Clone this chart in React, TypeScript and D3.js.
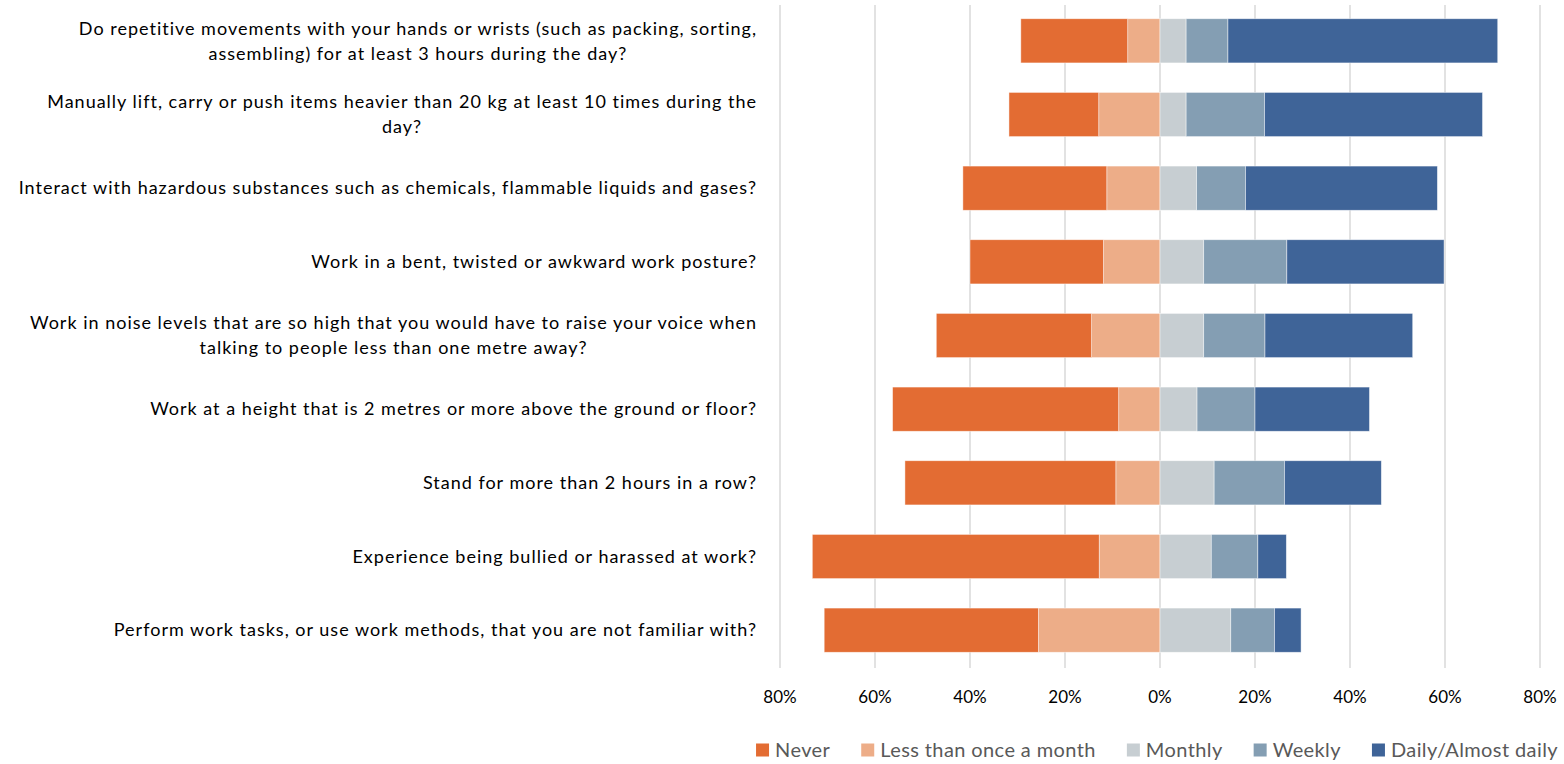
import React, { useEffect, useRef } from "react";
import * as d3 from "d3";

const questions: string[][] = [
  ["Do repetitive movements with your hands or wrists (such as packing, sorting,", "assembling) for at least 3 hours during the day?"],
  ["Manually lift, carry or push items heavier than 20 kg at least 10 times during the", "day?"],
  ["Interact with hazardous substances such as chemicals, flammable liquids and gases?"],
  ["Work in a bent, twisted or awkward work posture?"],
  ["Work in noise levels that are so high that you would have to raise your voice when", "talking to people less than one metre away?"],
  ["Work at a height that is 2 metres or more above the ground or floor?"],
  ["Stand for more than 2 hours in a row?"],
  ["Experience being bullied or harassed at work?"],
  ["Perform work tasks, or use work methods, that you are not familiar with?"],
];

const never = [22.5, 18.9, 30.3, 28.1, 32.7, 47.6, 44.4, 60.4, 45.1];
const lessThanMonthly = [6.8, 12.9, 11.2, 11.9, 14.4, 8.7, 9.3, 12.8, 25.6];
const monthly = [5.5, 5.5, 7.7, 9.2, 9.2, 7.8, 11.4, 10.8, 14.9];
const weekly = [8.8, 16.5, 10.3, 17.5, 12.9, 12.2, 14.8, 9.8, 9.2];
const daily = [56.8, 45.9, 40.4, 33.1, 31.1, 24.1, 20.4, 6.0, 5.6];

const seriesNames = ["Never", "Less than once a month", "Monthly", "Weekly", "Daily/Almost daily"];
const colors = ["#E36C33", "#EDAD88", "#C7CED2", "#849EB3", "#3F6498"];
const tickValues = [-80, -60, -40, -20, 0, 20, 40, 60, 80];

const W = 1564;
const H = 764;
const FONT = "Lato, 'Open Sans', sans-serif";

export default function App() {
  const ref = useRef<SVGSVGElement | null>(null);

  useEffect(() => {
    const svg = d3.select(ref.current);
    svg.selectAll("*").remove();

    const x = d3.scaleLinear().domain([-80, 80]).range([780, 1540]);
    const idx = questions.map((_, i) => String(i));
    const y = d3.scaleBand().domain(idx).range([4, 667]).paddingInner(0.4).paddingOuter(0.2);

    // gridlines
    svg.append("g").selectAll("line").data(tickValues).join("line")
      .attr("x1", (d) => x(d)).attr("x2", (d) => x(d))
      .attr("y1", 5).attr("y2", 668)
      .attr("stroke", "#D9D9D9").attr("stroke-width", 1.5);

    // segments
    type Seg = { row: number; s: number; x0: number; x1: number };
    const segs: Seg[] = [];
    questions.forEach((_, i) => {
      const l = lessThanMonthly[i];
      const n = never[i];
      segs.push({ row: i, s: 1, x0: -l, x1: 0 });
      segs.push({ row: i, s: 0, x0: -(l + n), x1: -l });
      let acc = 0;
      [monthly[i], weekly[i], daily[i]].forEach((v, k) => {
        segs.push({ row: i, s: 2 + k, x0: acc, x1: acc + v });
        acc += v;
      });
    });

    svg.append("g").selectAll("rect").data(segs).join("rect")
      .attr("x", (d) => x(d.x0))
      .attr("width", (d) => x(d.x1) - x(d.x0))
      .attr("y", (d) => y(String(d.row))!)
      .attr("height", y.bandwidth())
      .attr("fill", (d) => colors[d.s])
      .attr("stroke", "#ffffff").attr("stroke-opacity", 0.6).attr("stroke-width", 0.75);

    // category labels
    const lg = svg.append("g").attr("font-family", FONT).attr("font-size", 18)
      .attr("letter-spacing", 1).attr("fill", "#000");
    questions.forEach((lines, i) => {
      const cy = y(String(i))! + y.bandwidth() / 2;
      const lh = 25;
      const top = cy - ((lines.length - 1) * lh) / 2;
      const t0 = lg.append("text")
        .attr("x", 757).attr("y", top).attr("dy", "0.35em")
        .attr("text-anchor", "end").text(lines[0]);
      const w0 = (t0.node() as SVGTextElement).getComputedTextLength();
      const center = 757 - w0 / 2;
      for (let k = 1; k < lines.length; k++) {
        lg.append("text")
          .attr("x", center).attr("y", top + k * lh).attr("dy", "0.35em")
          .attr("text-anchor", "middle").text(lines[k]);
      }
    });

    // tick labels
    svg.append("g").attr("font-family", FONT).attr("font-size", 17).attr("fill", "#000")
      .selectAll("text").data(tickValues).join("text")
      .attr("x", (d) => x(d)).attr("y", 697).attr("dy", "0.35em")
      .attr("text-anchor", "middle")
      .text((d) => `${Math.abs(d)}%`);

    // legend
    const leg = svg.append("g").attr("font-family", FONT).attr("font-size", 20)
      .attr("letter-spacing", 0.4).attr("fill", "#595959");
    const items = seriesNames.map((name, i) => {
      const g = leg.append("g");
      g.append("rect").attr("x", 0).attr("y", -6.5).attr("width", 13).attr("height", 13).attr("fill", colors[i]);
      const t = g.append("text").attr("x", 19).attr("y", 0).attr("dy", "0.35em").text(name);
      const w = 19 + (t.node() as SVGTextElement).getComputedTextLength();
      return { g, w };
    });
    const gap = 31;
    const total = d3.sum(items, (d) => d.w) + gap * (items.length - 1);
    let cx = 1157 - total / 2;
    items.forEach((it) => {
      it.g.attr("transform", `translate(${cx},750)`);
      cx += it.w + gap;
    });
  }, []);

  return (
    <svg
      ref={ref}
      width={W}
      height={H}
      style={{ position: "absolute", left: 0, top: 0, display: "block", background: "#fff" }}
    />
  );
}
